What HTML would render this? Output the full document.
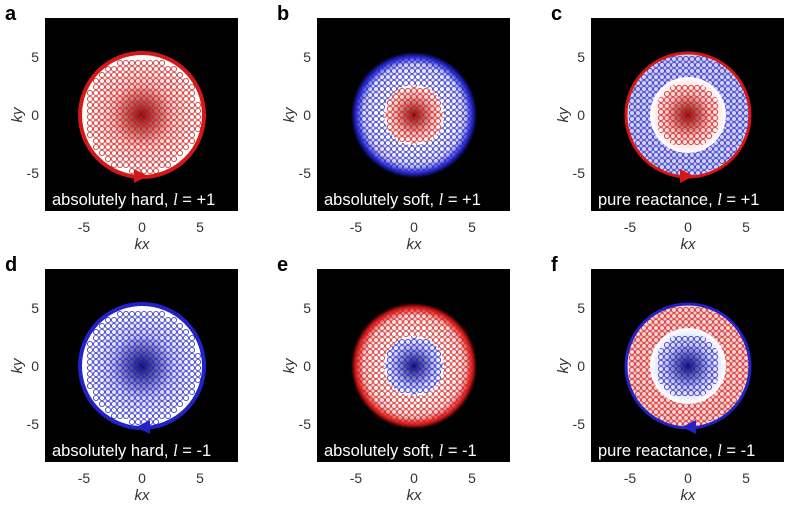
<!DOCTYPE html>
<html><head><style>
body{margin:0;background:#fff;width:800px;height:509px;overflow:hidden}
svg text{font-family:"Liberation Sans",sans-serif}
</style></head><body>
<svg id="s" width="800" height="509" xmlns="http://www.w3.org/2000/svg"></svg>
<script>
const s=document.getElementById('s');
const R='#d41818',B='#2222c8';
const panels=[
 {x:45,y:18,l:'a',t:'absolutely hard',sign:'+1',type:'hard',c:R,cd:'#7a0a0a',cl:'#f6d0d0',c2:B},
 {x:317,y:18,l:'b',t:'absolutely soft',sign:'+1',type:'soft',c:R,cd:'#7a0a0a',cl:'#f6d0d0',c2:B,c2l:'#d8d8f8'},
 {x:591,y:18,l:'c',t:'pure reactance',sign:'+1',type:'reac',c:R,cd:'#7a0a0a',cl:'#f6d0d0',c2:B,c2l:'#d0d0f6'},
 {x:45,y:269,l:'d',t:'absolutely hard',sign:'-1',type:'hard',c:B,cd:'#0a0a60',cl:'#d0d0f6',c2:R},
 {x:317,y:269,l:'e',t:'absolutely soft',sign:'-1',type:'soft',c:B,cd:'#0a0a60',cl:'#d0d0f6',c2:R,c2l:'#f8d8d8'},
 {x:591,y:269,l:'f',t:'pure reactance',sign:'-1',type:'reac',c:B,cd:'#0a0a60',cl:'#d0d0f6',c2:R,c2l:'#f6d0d0'}];
let h='';
panels.forEach((p,i)=>{
 const cx=p.x+97,cy=p.y+97,id='p'+i;
 h+=`<text x="${p.x-40}" y="${p.y+2}" font-size="20" font-weight="bold">${p.l}</text>`;
 h+=`<rect x="${p.x}" y="${p.y}" width="193" height="193" fill="#000"/>`;
 h+=`<clipPath id="c${id}"><circle cx="${cx}" cy="${cy}" r="${p.type=='soft'?60:63}"/></clipPath>`;
 h+=`<clipPath id="ci${id}"><circle cx="${cx}" cy="${cy}" r="30"/></clipPath>`;
 if(p.type=='hard'){
  h+=`<radialGradient id="g${id}"><stop offset="0" stop-color="${p.cd}"/><stop offset="0.5" stop-color="${p.cl}"/><stop offset="0.85" stop-color="#fff"/><stop offset="1" stop-color="#fff"/></radialGradient>`;
  h+=`<circle cx="${cx}" cy="${cy}" r="63" fill="url(#g${id})"/>`;
  h+=grid(cx,cy,58,p.c,`c${id}`);
  h+=`<circle cx="${cx}" cy="${cy}" r="62" fill="none" stroke="${p.c}" stroke-width="4"/>`;
 }else if(p.type=='soft'){
  h+=`<radialGradient id="g${id}"><stop offset="0" stop-color="#fff"/><stop offset="0.55" stop-color="#fff"/><stop offset="0.8" stop-color="${p.c2l}"/><stop offset="0.93" stop-color="${p.c2}"/><stop offset="1" stop-color="#000"/></radialGradient>`;
  h+=`<circle cx="${cx}" cy="${cy}" r="63" fill="url(#g${id})"/>`;
  h+=grid(cx,cy,62,p.c2,`c${id}`);
  h+=`<radialGradient id="gi${id}"><stop offset="0" stop-color="${p.cd}"/><stop offset="0.7" stop-color="${p.cl}"/><stop offset="1" stop-color="#fff"/></radialGradient>`;
  h+=`<circle cx="${cx}" cy="${cy}" r="30" fill="url(#gi${id})"/>`;
  h+=grid(cx,cy,30,p.c,`ci${id}`);
 }else{
  h+=`<circle cx="${cx}" cy="${cy}" r="63" fill="${p.c2l}"/>`;
  h+=grid(cx,cy,62,p.c2,`c${id}`);
  h+=`<radialGradient id="gi${id}"><stop offset="0" stop-color="${p.cd}"/><stop offset="0.6" stop-color="${p.cl}"/><stop offset="1" stop-color="#fff"/></radialGradient>`;
  h+=`<circle cx="${cx}" cy="${cy}" r="38" fill="url(#gi${id})"/>`;
  h+=`<clipPath id="cr${id}"><circle cx="${cx}" cy="${cy}" r="33"/></clipPath>`;
  h+=grid(cx,cy,33,p.c,`cr${id}`);
  h+=`<circle cx="${cx}" cy="${cy}" r="62" fill="none" stroke="${p.c}" stroke-width="3"/>`;
 }
 if(p.type!='soft'){
  const d=p.sign=='+1'?1:-1;
  h+=`<polygon points="${cx-8*d},${cy+54} ${cx+6*d},${cy+61} ${cx-8*d},${cy+68}" fill="${p.c}"/>`;
 }
 h+=`<text x="${p.x+7}" y="${p.y+187}" font-size="16.5" fill="#fff">${p.t}, <tspan font-style="italic" font-family="Liberation Serif">l</tspan> = ${p.sign}</text>`;
 [-5,0,5].forEach(v=>{
  h+=`<text x="${cx+v*11.6}" y="${p.y+214}" font-size="14" fill="#333" text-anchor="middle">${v}</text>`;
  h+=`<text x="${p.x-6}" y="${cy-v*11.6+5}" font-size="14" fill="#333" text-anchor="end">${v}</text>`;
 });
 h+=`<text x="${cx}" y="${p.y+231}" font-size="15" font-style="italic" fill="#333" text-anchor="middle">kx</text>`;
 h+=`<text transform="translate(${p.x-23},${cy}) rotate(-90)" font-size="15" font-style="italic" fill="#333" text-anchor="middle">ky</text>`;
});
function grid(cx,cy,r,col,clip){
 let g=`<g clip-path="url(#${clip})" fill="none" stroke="${col}" stroke-width="0.9" opacity="0.85">`;
 for(let x=-r;x<=r;x+=6)for(let y=-r;y<=r;y+=6){
  if(x*x+y*y<=r*r)g+=`<circle cx="${cx+x}" cy="${cy+y}" r="2.6"/>`;
 }
 return g+'</g>';
}
s.innerHTML=h;
</script>
</body></html>
